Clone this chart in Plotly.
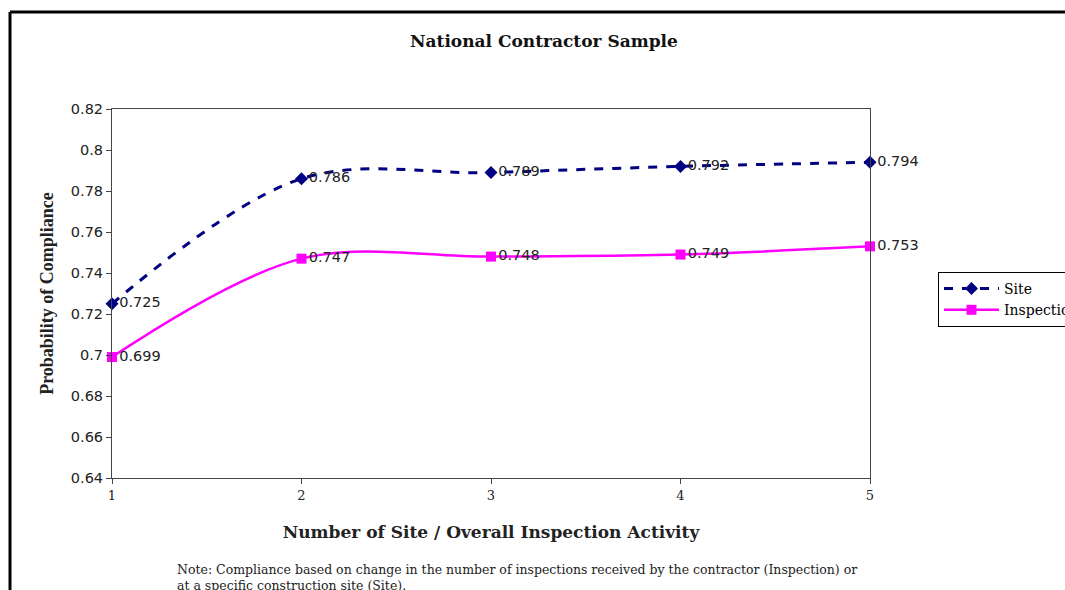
import plotly.graph_objects as go

x_vals = [1, 2, 3, 4, 5]
site = [0.725, 0.786, 0.789, 0.792, 0.794]
inspection = [0.699, 0.747, 0.748, 0.749, 0.753]
y_ticks = [0.64, 0.66, 0.68, 0.7, 0.72, 0.74, 0.76, 0.78, 0.8, 0.82]
y_tick_text = ["0.64", "0.66", "0.68", "0.7", "0.72", "0.74", "0.76", "0.78", "0.8", "0.82"]

serif = "Liberation Serif, Times New Roman, serif"
wserif = "DejaVu Serif, serif"
sans = "DejaVu Sans, Verdana, sans-serif"

OFF = 0
L, T, R, B = 112 - OFF, 109 - OFF, 870 - OFF, 478 - OFF
W, H = 1065, 590
PW, PH = R - L, B - T


def px(x):
    return (x - OFF - L) / PW


def py(y):
    return (B - (y - OFF)) / PH


fig = go.Figure()
fig.add_trace(go.Scatter(
    x=x_vals, y=site, name="Site", mode="lines+markers+text",
    line=dict(color="#000080", width=3, dash="dash", shape="spline", smoothing=1),
    marker=dict(symbol="diamond", size=10, color="#000080"),
    text=[f"{v:.3f}" for v in site], textposition="middle right",
    textfont=dict(family=sans, size=14.5, color="#222222"), cliponaxis=False,
))
fig.add_trace(go.Scatter(
    x=x_vals, y=inspection, name="Inspection", mode="lines+markers+text",
    line=dict(color="#FF00FF", width=2.5, shape="spline", smoothing=1),
    marker=dict(symbol="square", size=10, color="#FF00FF"),
    text=[f"{v:.3f}" for v in inspection], textposition="middle right",
    textfont=dict(family=sans, size=14.5, color="#222222"), cliponaxis=False,
))

fig.update_layout(
    width=W, height=H,
    margin=dict(l=L, r=W - R, t=T, b=H - B, autoexpand=False),
    paper_bgcolor="white", plot_bgcolor="white",
    showlegend=True,
    legend=dict(x=px(938), y=py(272), xanchor="left", yanchor="top",
                bordercolor="black", borderwidth=1, bgcolor="white",
                font=dict(family=wserif, size=14, color="black"),
                tracegroupgap=0, itemwidth=55),
    xaxis=dict(range=[1, 5], tickvals=x_vals, ticktext=[str(v) for v in x_vals],
               showgrid=False, zeroline=False, showline=True, linecolor="#444444",
               linewidth=1, mirror=True, ticks="outside", ticklen=5, tickcolor="#444444",
               tickfont=dict(family=wserif, size=13, color="#222222"),
               title=dict(text="<b>Number of Site / Overall Inspection Activity</b>",
                          font=dict(family=wserif, size=17, color="#222222"), standoff=24)),
    yaxis=dict(range=[0.64, 0.82], tickvals=y_ticks, ticktext=y_tick_text,
               showgrid=False, zeroline=False, showline=True, linecolor="#444444",
               linewidth=1, mirror=True, ticks="outside", ticklen=5, tickcolor="#444444",
               tickfont=dict(family=sans, size=14.5, color="#222222"),
               title=dict(text="<b>Probability of Compliance</b>",
                          font=dict(family=serif, size=18, color="#222222"), standoff=12)),
)

fig.add_annotation(text="<b>National Contractor Sample</b>", xref="paper", yref="paper",
                   x=px(544), y=py(41), xanchor="center", yanchor="middle", showarrow=False,
                   font=dict(family=wserif, size=17, color="#111111"))
fig.add_annotation(text="Note: Compliance based on change in the number of inspections received by the contractor (Inspection) or<br>at a specific construction site (Site).",
                   xref="paper", yref="paper", x=px(175), y=py(560),
                   xanchor="left", yanchor="top", align="left", showarrow=False,
                   font=dict(family=wserif, size=12.5, color="#222222"))

# outer page border (top and left)
fig.add_shape(type="line", xref="paper", yref="paper",
              x0=px(10), x1=px(1080), y0=py(12), y1=py(12),
              line=dict(color="black", width=3))
fig.add_shape(type="line", xref="paper", yref="paper",
              x0=px(10), x1=px(10), y0=py(12), y1=py(610),
              line=dict(color="black", width=3))

fig.write_html("out.html", config={"displayModeBar": False},
               post_script="document.body.style.margin='0';document.body.style.overflow='hidden';")
